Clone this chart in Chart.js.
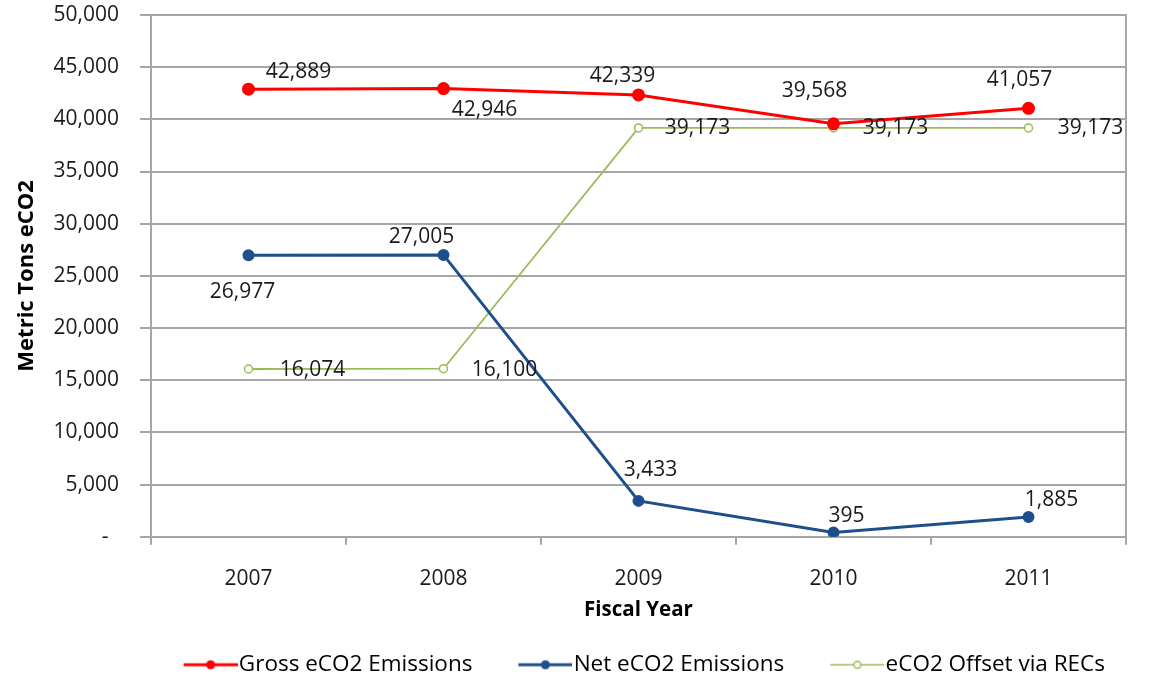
<!DOCTYPE html>
<html>
<head>
<meta charset="utf-8">
<script src="https://cdn.jsdelivr.net/npm/chart.js@4.4.1/dist/chart.umd.min.js"></script>
<style>
  html, body { margin: 0; padding: 0; background: #fff; }
  #wrap { width: 1149px; height: 678px; }
</style>
</head>
<body>
<div id="wrap"><canvas id="myChart" width="1149" height="678"></canvas></div>
<script>
// data
const years = ['2007', '2008', '2009', '2010', '2011'];
const grossEmissions = [42889, 42946, 42339, 39568, 41057];
const netEmissions = [26977, 27005, 3433, 395, 1885];
const recOffsets = [16074, 16100, 39173, 39173, 39173];
const yTicks = [0, 5000, 10000, 15000, 20000, 25000, 30000, 35000, 40000, 45000, 50000];

// where each value label sits relative to its point (px)
const labelShift = [
    [[50, -17], [41, 21], [-16, -19], [-19, -33], [-9, -28]],
    [[-6, 37], [-22, -18], [12, -31], [13, -17], [23, -17]],
    [[64, 1], [61, 1], [59, 0], [62, 0], [62, 0]]
];

const FONT = "'Open Sans', 'DejaVu Sans', sans-serif";
const GRID = '#a6a6a6';
const EN = '\u2002';

function fmt(v) {
    return v === 0 ? '-' : v.toLocaleString('en-US');
}

// tick text, padded on the right (keeps the top of the plot where it belongs)
function tickText(v) {
    return v === 0 ? '-' + EN + EN + EN : fmt(v) + EN + EN;
}

// little line+marker icon for the legend, drawn at the right of a wider canvas
function legendIcon(color, lineW, r, hollow) {
    const c = document.createElement('canvas');
    c.width = 66; c.height = 14;
    const ctx = c.getContext('2d');
    ctx.strokeStyle = color;
    ctx.lineWidth = lineW;
    ctx.beginPath();
    ctx.moveTo(12, 7); ctx.lineTo(66, 7);
    ctx.stroke();
    ctx.beginPath();
    ctx.arc(39, 7, r, 0, Math.PI * 2);
    if (hollow) {
        ctx.fillStyle = '#fff';
        ctx.fill();
        ctx.lineWidth = 1.5;
        ctx.stroke();
    } else {
        ctx.fillStyle = color;
        ctx.fill();
    }
    return c;
}

const valueLabels = {
    id: 'valueLabels',
    afterDatasetsDraw(chart) {
        const ctx = chart.ctx;
        ctx.save();
        ctx.font = '21px ' + FONT;
        ctx.fillStyle = '#1a1a1a';
        ctx.textAlign = 'center';
        ctx.textBaseline = 'middle';
        chart.data.datasets.forEach((ds, di) => {
            const meta = chart.getDatasetMeta(di);
            meta.data.forEach((pt, i) => {
                const s = labelShift[di][i];
                ctx.fillText(fmt(ds.data[i]), pt.x + s[0], pt.y + s[1]);
            });
        });
        ctx.restore();
    }
};

const icons = [
    legendIcon('#ff0000', 3, 4.5, false),
    legendIcon('#1f4e8c', 3, 4.5, false),
    legendIcon('#9bbb59', 1.5, 3.5, true)
];

const myChartRef = document.getElementById('myChart').getContext('2d');

new Chart(myChartRef, {
    type: 'line',
    data: {
        labels: years,
        datasets: [
            {
                label: 'Gross eCO2 Emissions',
                data: grossEmissions,
                borderColor: '#ff0000',
                backgroundColor: '#ff0000',
                pointBackgroundColor: '#ff0000',
                borderWidth: 3,
                pointRadius: 5,
                fill: false
            },
            {
                label: 'Net eCO2 Emissions',
                data: netEmissions,
                borderColor: '#1f4e8c',
                backgroundColor: '#1f4e8c',
                pointBackgroundColor: '#1f4e8c',
                borderWidth: 3,
                pointRadius: 4.5,
                fill: false
            },
            {
                label: 'eCO2 Offset via RECs',
                data: recOffsets,
                borderColor: '#9bbb59',
                backgroundColor: '#ffffff',
                pointBackgroundColor: '#ffffff',
                pointBorderColor: '#9bbb59',
                pointBorderWidth: 1.5,
                borderWidth: 1.8,
                pointRadius: 4,
                fill: false
            }
        ]
    },
    options: {
        responsive: false,
        animation: false,
        layout: { padding: { top: 15, right: 0, left: 0, bottom: -8 } },
        plugins: {
            tooltip: { enabled: false },
            legend: {
                position: 'bottom',
                align: 'end',
                labels: {
                    font: { family: FONT, size: 22.5 },
                    color: '#1a1a1a',
                    usePointStyle: true,
                    pointStyleWidth: 46,
                    padding: 44,
                    generateLabels(chart) {
                        return chart.data.datasets.map((ds, i) => ({
                            text: ds.label,
                            pointStyle: icons[i],
                            fillStyle: ds.borderColor,
                            strokeStyle: ds.borderColor,
                            lineWidth: 0,
                            hidden: false,
                            datasetIndex: i
                        }));
                    }
                }
            }
        },
        scales: {
            x: {
                offset: true,
                grid: {
                    offset: true,
                    drawOnChartArea: false,
                    color: GRID,
                    lineWidth: 2,
                    tickLength: 8
                },
                border: { color: GRID, width: 2 },
                ticks: {
                    font: { family: FONT, size: 21 },
                    color: '#1a1a1a',
                    padding: 22
                },
                title: {
                    display: true,
                    text: 'Fiscal Year',
                    font: { family: FONT, size: 20.5, weight: 'bold' },
                    color: '#000',
                    padding: { top: -16, bottom: -13 }
                }
            },
            y: {
                min: 0,
                max: 50000,
                afterFit(scale) { scale.width = 151; },
                afterBuildTicks(scale) { scale.ticks = yTicks.map(v => ({ value: v })); },
                grid: { color: GRID, lineWidth: 2, tickLength: 11 },
                border: { color: GRID, width: 2 },
                ticks: {
                    font: { family: FONT, size: 21 },
                    color: '#1a1a1a',
                    padding: 0,
                    callback: v => tickText(v)
                },
                title: {
                    display: true,
                    text: 'Metric Tons eCO2',
                    font: { family: FONT, size: 22, weight: 'bold' },
                    color: '#000',
                    padding: { top: 14, bottom: 0 }
                }
            },
            yRight: {
                position: 'right',
                min: 0,
                max: 50000,
                afterFit(scale) { scale.width = 23; },
                grid: { display: false },
                border: { color: GRID, width: 2 },
                ticks: { display: false }
            }
        }
    },
    plugins: [valueLabels]
});
</script>
</body>
</html>
